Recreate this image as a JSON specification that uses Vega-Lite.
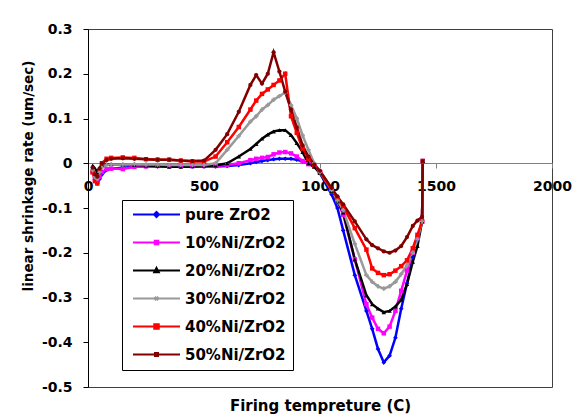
{
  "$schema": "https://vega.github.io/schema/vega-lite/v6.json",
  "width": 464,
  "height": 358,
  "autosize": {"type": "none"},
  "padding": {"left": 88, "top": 29, "right": 31, "bottom": 32},
  "config": {
    "font": "DejaVu Sans",
    "view": {"stroke": "#404040", "strokeWidth": 1},
    "axis": {"grid": false, "labelFontWeight": "bold", "labelColor": "black", "titleFontWeight": "bold", "titleColor": "black"}
  },
  "data": {"values": [
{"s":"pure ZrO2","t":20,"v":-0.015},{"s":"pure ZrO2","t":30,"v":-0.035},{"s":"pure ZrO2","t":40,"v":-0.045},{"s":"pure ZrO2","t":50,"v":-0.035},{"s":"pure ZrO2","t":60,"v":-0.025},{"s":"pure ZrO2","t":80,"v":-0.015},{"s":"pure ZrO2","t":100,"v":-0.012},{"s":"pure ZrO2","t":150,"v":-0.01},{"s":"pure ZrO2","t":200,"v":-0.008},{"s":"pure ZrO2","t":250,"v":-0.007},{"s":"pure ZrO2","t":300,"v":-0.007},{"s":"pure ZrO2","t":350,"v":-0.007},{"s":"pure ZrO2","t":400,"v":-0.007},{"s":"pure ZrO2","t":450,"v":-0.007},{"s":"pure ZrO2","t":500,"v":-0.007},{"s":"pure ZrO2","t":550,"v":-0.007},{"s":"pure ZrO2","t":600,"v":-0.006},{"s":"pure ZrO2","t":650,"v":-0.004},{"s":"pure ZrO2","t":700,"v":0.0},{"s":"pure ZrO2","t":725,"v":0.003},{"s":"pure ZrO2","t":750,"v":0.005},{"s":"pure ZrO2","t":775,"v":0.007},{"s":"pure ZrO2","t":800,"v":0.009},{"s":"pure ZrO2","t":825,"v":0.01},{"s":"pure ZrO2","t":850,"v":0.01},{"s":"pure ZrO2","t":875,"v":0.01},{"s":"pure ZrO2","t":900,"v":0.008},{"s":"pure ZrO2","t":925,"v":0.004},{"s":"pure ZrO2","t":950,"v":0.0},{"s":"pure ZrO2","t":975,"v":-0.006},{"s":"pure ZrO2","t":1000,"v":-0.022},{"s":"pure ZrO2","t":1050,"v":-0.07},{"s":"pure ZrO2","t":1075,"v":-0.1},{"s":"pure ZrO2","t":1100,"v":-0.15},{"s":"pure ZrO2","t":1150,"v":-0.25},{"s":"pure ZrO2","t":1200,"v":-0.33},{"s":"pure ZrO2","t":1225,"v":-0.37},{"s":"pure ZrO2","t":1250,"v":-0.415},{"s":"pure ZrO2","t":1275,"v":-0.445},{"s":"pure ZrO2","t":1300,"v":-0.43},{"s":"pure ZrO2","t":1325,"v":-0.39},{"s":"pure ZrO2","t":1350,"v":-0.325},{"s":"pure ZrO2","t":1375,"v":-0.268},{"s":"pure ZrO2","t":1400,"v":-0.21},{"s":"pure ZrO2","t":1420,"v":-0.17},{"s":"pure ZrO2","t":1440,"v":-0.13},{"s":"pure ZrO2","t":1443,"v":0.005},
{"s":"10%Ni/ZrO2","t":20,"v":-0.02},{"s":"10%Ni/ZrO2","t":30,"v":-0.035},{"s":"10%Ni/ZrO2","t":40,"v":-0.04},{"s":"10%Ni/ZrO2","t":50,"v":-0.03},{"s":"10%Ni/ZrO2","t":60,"v":-0.02},{"s":"10%Ni/ZrO2","t":80,"v":-0.013},{"s":"10%Ni/ZrO2","t":100,"v":-0.012},{"s":"10%Ni/ZrO2","t":150,"v":-0.013},{"s":"10%Ni/ZrO2","t":200,"v":-0.008},{"s":"10%Ni/ZrO2","t":250,"v":-0.007},{"s":"10%Ni/ZrO2","t":300,"v":-0.006},{"s":"10%Ni/ZrO2","t":350,"v":-0.006},{"s":"10%Ni/ZrO2","t":400,"v":-0.006},{"s":"10%Ni/ZrO2","t":450,"v":-0.006},{"s":"10%Ni/ZrO2","t":500,"v":-0.006},{"s":"10%Ni/ZrO2","t":550,"v":-0.006},{"s":"10%Ni/ZrO2","t":600,"v":-0.004},{"s":"10%Ni/ZrO2","t":650,"v":0.0},{"s":"10%Ni/ZrO2","t":700,"v":0.007},{"s":"10%Ni/ZrO2","t":725,"v":0.01},{"s":"10%Ni/ZrO2","t":750,"v":0.012},{"s":"10%Ni/ZrO2","t":775,"v":0.014},{"s":"10%Ni/ZrO2","t":800,"v":0.02},{"s":"10%Ni/ZrO2","t":825,"v":0.024},{"s":"10%Ni/ZrO2","t":850,"v":0.025},{"s":"10%Ni/ZrO2","t":875,"v":0.022},{"s":"10%Ni/ZrO2","t":900,"v":0.015},{"s":"10%Ni/ZrO2","t":925,"v":0.005},{"s":"10%Ni/ZrO2","t":950,"v":-0.002},{"s":"10%Ni/ZrO2","t":975,"v":-0.006},{"s":"10%Ni/ZrO2","t":1000,"v":-0.02},{"s":"10%Ni/ZrO2","t":1050,"v":-0.062},{"s":"10%Ni/ZrO2","t":1075,"v":-0.085},{"s":"10%Ni/ZrO2","t":1100,"v":-0.115},{"s":"10%Ni/ZrO2","t":1150,"v":-0.215},{"s":"10%Ni/ZrO2","t":1200,"v":-0.315},{"s":"10%Ni/ZrO2","t":1225,"v":-0.345},{"s":"10%Ni/ZrO2","t":1250,"v":-0.37},{"s":"10%Ni/ZrO2","t":1275,"v":-0.38},{"s":"10%Ni/ZrO2","t":1300,"v":-0.365},{"s":"10%Ni/ZrO2","t":1325,"v":-0.33},{"s":"10%Ni/ZrO2","t":1350,"v":-0.285},{"s":"10%Ni/ZrO2","t":1375,"v":-0.24},{"s":"10%Ni/ZrO2","t":1400,"v":-0.2},{"s":"10%Ni/ZrO2","t":1420,"v":-0.165},{"s":"10%Ni/ZrO2","t":1440,"v":-0.13},{"s":"10%Ni/ZrO2","t":1443,"v":0.005},
{"s":"20%Ni/ZrO2","t":20,"v":-0.005},{"s":"20%Ni/ZrO2","t":30,"v":-0.012},{"s":"20%Ni/ZrO2","t":40,"v":-0.02},{"s":"20%Ni/ZrO2","t":50,"v":-0.01},{"s":"20%Ni/ZrO2","t":60,"v":-0.005},{"s":"20%Ni/ZrO2","t":80,"v":-0.002},{"s":"20%Ni/ZrO2","t":100,"v":-0.002},{"s":"20%Ni/ZrO2","t":150,"v":-0.003},{"s":"20%Ni/ZrO2","t":200,"v":-0.004},{"s":"20%Ni/ZrO2","t":250,"v":-0.005},{"s":"20%Ni/ZrO2","t":300,"v":-0.006},{"s":"20%Ni/ZrO2","t":350,"v":-0.008},{"s":"20%Ni/ZrO2","t":400,"v":-0.008},{"s":"20%Ni/ZrO2","t":450,"v":-0.007},{"s":"20%Ni/ZrO2","t":500,"v":-0.006},{"s":"20%Ni/ZrO2","t":550,"v":-0.005},{"s":"20%Ni/ZrO2","t":600,"v":0.0},{"s":"20%Ni/ZrO2","t":650,"v":0.015},{"s":"20%Ni/ZrO2","t":700,"v":0.032},{"s":"20%Ni/ZrO2","t":725,"v":0.043},{"s":"20%Ni/ZrO2","t":750,"v":0.055},{"s":"20%Ni/ZrO2","t":775,"v":0.064},{"s":"20%Ni/ZrO2","t":800,"v":0.071},{"s":"20%Ni/ZrO2","t":825,"v":0.074},{"s":"20%Ni/ZrO2","t":850,"v":0.074},{"s":"20%Ni/ZrO2","t":875,"v":0.063},{"s":"20%Ni/ZrO2","t":900,"v":0.045},{"s":"20%Ni/ZrO2","t":925,"v":0.025},{"s":"20%Ni/ZrO2","t":950,"v":0.0},{"s":"20%Ni/ZrO2","t":975,"v":-0.008},{"s":"20%Ni/ZrO2","t":1000,"v":-0.022},{"s":"20%Ni/ZrO2","t":1050,"v":-0.062},{"s":"20%Ni/ZrO2","t":1075,"v":-0.085},{"s":"20%Ni/ZrO2","t":1100,"v":-0.11},{"s":"20%Ni/ZrO2","t":1150,"v":-0.215},{"s":"20%Ni/ZrO2","t":1200,"v":-0.295},{"s":"20%Ni/ZrO2","t":1225,"v":-0.315},{"s":"20%Ni/ZrO2","t":1250,"v":-0.325},{"s":"20%Ni/ZrO2","t":1275,"v":-0.333},{"s":"20%Ni/ZrO2","t":1300,"v":-0.33},{"s":"20%Ni/ZrO2","t":1325,"v":-0.32},{"s":"20%Ni/ZrO2","t":1350,"v":-0.305},{"s":"20%Ni/ZrO2","t":1375,"v":-0.27},{"s":"20%Ni/ZrO2","t":1400,"v":-0.22},{"s":"20%Ni/ZrO2","t":1420,"v":-0.185},{"s":"20%Ni/ZrO2","t":1440,"v":-0.13},{"s":"20%Ni/ZrO2","t":1443,"v":0.005},
{"s":"30%Ni/ZrO2","t":20,"v":-0.015},{"s":"30%Ni/ZrO2","t":30,"v":-0.03},{"s":"30%Ni/ZrO2","t":40,"v":-0.035},{"s":"30%Ni/ZrO2","t":50,"v":-0.02},{"s":"30%Ni/ZrO2","t":60,"v":-0.01},{"s":"30%Ni/ZrO2","t":80,"v":-0.004},{"s":"30%Ni/ZrO2","t":100,"v":-0.003},{"s":"30%Ni/ZrO2","t":150,"v":-0.003},{"s":"30%Ni/ZrO2","t":200,"v":-0.002},{"s":"30%Ni/ZrO2","t":250,"v":-0.003},{"s":"30%Ni/ZrO2","t":300,"v":-0.003},{"s":"30%Ni/ZrO2","t":350,"v":-0.004},{"s":"30%Ni/ZrO2","t":400,"v":-0.004},{"s":"30%Ni/ZrO2","t":450,"v":-0.004},{"s":"30%Ni/ZrO2","t":500,"v":-0.004},{"s":"30%Ni/ZrO2","t":550,"v":0.0},{"s":"30%Ni/ZrO2","t":600,"v":0.03},{"s":"30%Ni/ZrO2","t":650,"v":0.061},{"s":"30%Ni/ZrO2","t":700,"v":0.093},{"s":"30%Ni/ZrO2","t":725,"v":0.105},{"s":"30%Ni/ZrO2","t":750,"v":0.12},{"s":"30%Ni/ZrO2","t":775,"v":0.13},{"s":"30%Ni/ZrO2","t":800,"v":0.142},{"s":"30%Ni/ZrO2","t":825,"v":0.15},{"s":"30%Ni/ZrO2","t":850,"v":0.158},{"s":"30%Ni/ZrO2","t":875,"v":0.13},{"s":"30%Ni/ZrO2","t":900,"v":0.1},{"s":"30%Ni/ZrO2","t":925,"v":0.062},{"s":"30%Ni/ZrO2","t":950,"v":0.03},{"s":"30%Ni/ZrO2","t":975,"v":0.0},{"s":"30%Ni/ZrO2","t":1000,"v":-0.02},{"s":"30%Ni/ZrO2","t":1050,"v":-0.06},{"s":"30%Ni/ZrO2","t":1075,"v":-0.083},{"s":"30%Ni/ZrO2","t":1100,"v":-0.105},{"s":"30%Ni/ZrO2","t":1150,"v":-0.18},{"s":"30%Ni/ZrO2","t":1200,"v":-0.25},{"s":"30%Ni/ZrO2","t":1225,"v":-0.265},{"s":"30%Ni/ZrO2","t":1250,"v":-0.275},{"s":"30%Ni/ZrO2","t":1275,"v":-0.28},{"s":"30%Ni/ZrO2","t":1300,"v":-0.275},{"s":"30%Ni/ZrO2","t":1325,"v":-0.265},{"s":"30%Ni/ZrO2","t":1350,"v":-0.248},{"s":"30%Ni/ZrO2","t":1375,"v":-0.228},{"s":"30%Ni/ZrO2","t":1400,"v":-0.2},{"s":"30%Ni/ZrO2","t":1420,"v":-0.17},{"s":"30%Ni/ZrO2","t":1440,"v":-0.13},{"s":"30%Ni/ZrO2","t":1443,"v":0.005},
{"s":"40%Ni/ZrO2","t":20,"v":-0.02},{"s":"40%Ni/ZrO2","t":30,"v":-0.04},{"s":"40%Ni/ZrO2","t":40,"v":-0.045},{"s":"40%Ni/ZrO2","t":50,"v":-0.02},{"s":"40%Ni/ZrO2","t":60,"v":0.0},{"s":"40%Ni/ZrO2","t":80,"v":0.01},{"s":"40%Ni/ZrO2","t":100,"v":0.012},{"s":"40%Ni/ZrO2","t":150,"v":0.013},{"s":"40%Ni/ZrO2","t":200,"v":0.012},{"s":"40%Ni/ZrO2","t":250,"v":0.009},{"s":"40%Ni/ZrO2","t":300,"v":0.008},{"s":"40%Ni/ZrO2","t":350,"v":0.008},{"s":"40%Ni/ZrO2","t":400,"v":0.006},{"s":"40%Ni/ZrO2","t":450,"v":0.004},{"s":"40%Ni/ZrO2","t":500,"v":0.004},{"s":"40%Ni/ZrO2","t":550,"v":0.015},{"s":"40%Ni/ZrO2","t":600,"v":0.047},{"s":"40%Ni/ZrO2","t":650,"v":0.081},{"s":"40%Ni/ZrO2","t":700,"v":0.12},{"s":"40%Ni/ZrO2","t":725,"v":0.14},{"s":"40%Ni/ZrO2","t":750,"v":0.155},{"s":"40%Ni/ZrO2","t":775,"v":0.165},{"s":"40%Ni/ZrO2","t":800,"v":0.175},{"s":"40%Ni/ZrO2","t":825,"v":0.185},{"s":"40%Ni/ZrO2","t":850,"v":0.2},{"s":"40%Ni/ZrO2","t":875,"v":0.105},{"s":"40%Ni/ZrO2","t":900,"v":0.068},{"s":"40%Ni/ZrO2","t":925,"v":0.032},{"s":"40%Ni/ZrO2","t":950,"v":0.01},{"s":"40%Ni/ZrO2","t":975,"v":-0.005},{"s":"40%Ni/ZrO2","t":1000,"v":-0.02},{"s":"40%Ni/ZrO2","t":1050,"v":-0.058},{"s":"40%Ni/ZrO2","t":1075,"v":-0.078},{"s":"40%Ni/ZrO2","t":1100,"v":-0.097},{"s":"40%Ni/ZrO2","t":1150,"v":-0.145},{"s":"40%Ni/ZrO2","t":1200,"v":-0.193},{"s":"40%Ni/ZrO2","t":1225,"v":-0.235},{"s":"40%Ni/ZrO2","t":1250,"v":-0.245},{"s":"40%Ni/ZrO2","t":1275,"v":-0.25},{"s":"40%Ni/ZrO2","t":1300,"v":-0.248},{"s":"40%Ni/ZrO2","t":1325,"v":-0.24},{"s":"40%Ni/ZrO2","t":1350,"v":-0.23},{"s":"40%Ni/ZrO2","t":1375,"v":-0.217},{"s":"40%Ni/ZrO2","t":1400,"v":-0.19},{"s":"40%Ni/ZrO2","t":1420,"v":-0.16},{"s":"40%Ni/ZrO2","t":1440,"v":-0.13},{"s":"40%Ni/ZrO2","t":1443,"v":0.005},
{"s":"50%Ni/ZrO2","t":20,"v":-0.01},{"s":"50%Ni/ZrO2","t":30,"v":-0.025},{"s":"50%Ni/ZrO2","t":40,"v":-0.03},{"s":"50%Ni/ZrO2","t":50,"v":-0.012},{"s":"50%Ni/ZrO2","t":60,"v":0.0},{"s":"50%Ni/ZrO2","t":80,"v":0.007},{"s":"50%Ni/ZrO2","t":100,"v":0.01},{"s":"50%Ni/ZrO2","t":150,"v":0.011},{"s":"50%Ni/ZrO2","t":200,"v":0.01},{"s":"50%Ni/ZrO2","t":250,"v":0.009},{"s":"50%Ni/ZrO2","t":300,"v":0.008},{"s":"50%Ni/ZrO2","t":350,"v":0.008},{"s":"50%Ni/ZrO2","t":400,"v":0.006},{"s":"50%Ni/ZrO2","t":450,"v":0.005},{"s":"50%Ni/ZrO2","t":500,"v":0.006},{"s":"50%Ni/ZrO2","t":550,"v":0.03},{"s":"50%Ni/ZrO2","t":600,"v":0.065},{"s":"50%Ni/ZrO2","t":650,"v":0.115},{"s":"50%Ni/ZrO2","t":700,"v":0.175},{"s":"50%Ni/ZrO2","t":725,"v":0.197},{"s":"50%Ni/ZrO2","t":750,"v":0.178},{"s":"50%Ni/ZrO2","t":775,"v":0.2},{"s":"50%Ni/ZrO2","t":800,"v":0.248},{"s":"50%Ni/ZrO2","t":825,"v":0.205},{"s":"50%Ni/ZrO2","t":850,"v":0.16},{"s":"50%Ni/ZrO2","t":875,"v":0.12},{"s":"50%Ni/ZrO2","t":900,"v":0.08},{"s":"50%Ni/ZrO2","t":925,"v":0.04},{"s":"50%Ni/ZrO2","t":950,"v":0.015},{"s":"50%Ni/ZrO2","t":975,"v":-0.003},{"s":"50%Ni/ZrO2","t":1000,"v":-0.017},{"s":"50%Ni/ZrO2","t":1050,"v":-0.055},{"s":"50%Ni/ZrO2","t":1075,"v":-0.074},{"s":"50%Ni/ZrO2","t":1100,"v":-0.092},{"s":"50%Ni/ZrO2","t":1150,"v":-0.13},{"s":"50%Ni/ZrO2","t":1200,"v":-0.17},{"s":"50%Ni/ZrO2","t":1225,"v":-0.183},{"s":"50%Ni/ZrO2","t":1250,"v":-0.19},{"s":"50%Ni/ZrO2","t":1275,"v":-0.197},{"s":"50%Ni/ZrO2","t":1300,"v":-0.2},{"s":"50%Ni/ZrO2","t":1325,"v":-0.195},{"s":"50%Ni/ZrO2","t":1350,"v":-0.185},{"s":"50%Ni/ZrO2","t":1375,"v":-0.165},{"s":"50%Ni/ZrO2","t":1400,"v":-0.14},{"s":"50%Ni/ZrO2","t":1420,"v":-0.128},{"s":"50%Ni/ZrO2","t":1440,"v":-0.12},{"s":"50%Ni/ZrO2","t":1443,"v":0.005}
  ]},
  "encoding": {
    "x": {
      "field": "t", "type": "quantitative",
      "scale": {"domain": [0, 2000], "nice": false},
      "axis": {
        "title": "Firing tempreture (C)",
        "values": [0, 500, 1000, 1500, 2000],
        "format": "d",
        "offset": -224,
        "domainColor": "#808080", "tickColor": "#808080", "tickSize": 5,
        "labelFontSize": 14, "labelPadding": 11, "labelFlush": false, "labelOverlap": false,
        "titleFontSize": 15, "titleY": 242, "titleBaseline": "middle"
      }
    },
    "y": {
      "field": "v", "type": "quantitative",
      "scale": {"domain": [-0.5, 0.3], "nice": false, "zero": false},
      "axis": {
        "title": "linear shrinkage rate (um/sec)",
        "values": [-0.5, -0.4, -0.3, -0.2, -0.1, 0, 0.1, 0.2, 0.3],
        "labelExpr": "datum.value == 0 ? '0' : replace(format(datum.value, '.1f'), '\u2212', '-')",
        "domainColor": "black", "tickColor": "black", "tickSize": 5,
        "labelFontSize": 14, "labelPadding": 11, "labelFlush": false, "labelOverlap": false,
        "titleFontSize": 13.5, "titleX": -60, "titleY": 146.5, "titleAlign": "center", "titleBaseline": "middle", "titleAngle": -90
      }
    },
    "color": {
      "field": "s", "type": "nominal",
      "scale": {
        "domain": ["pure ZrO2", "10%Ni/ZrO2", "20%Ni/ZrO2", "30%Ni/ZrO2", "40%Ni/ZrO2", "50%Ni/ZrO2"],
        "range": ["#0000FF", "#FF00FF", "#000000", "#999999", "#FF0000", "#800000"]
      },
      "legend": {
        "title": null,
        "orient": "none",
        "legendX": 34,
        "legendY": 171,
        "padding": 7,
        "strokeColor": "black",
        "fillColor": "white",
        "rowPadding": 12,
        "symbolType": "M-4.7,0H4.7",
        "symbolSize": 100,
        "symbolStrokeWidth": 2,
        "symbolOffset": 20,
        "labelOffset": 21,
        "labelFontSize": 15,
        "labelFontWeight": "bold",
        "labelColor": "black",
        "labelLimit": 0,
        "encode": {
          "symbols": {
            "update": {
              "fill": {"scale": "color", "field": "value"},
              "stroke": {"scale": "color", "field": "value"},
              "shape": {"signal": "datum.value == 'pure ZrO2' ? 'M-4.7,0H4.7M0,-0.5L0.5,0L0,0.5L-0.5,0Z' : datum.value == '10%Ni/ZrO2' ? 'M-4.7,0H4.7M-0.35,-0.35H0.35V0.35H-0.35Z' : datum.value == '20%Ni/ZrO2' ? 'M-4.7,0H4.7M0,-0.5L0.45,0.35H-0.45Z' : datum.value == '30%Ni/ZrO2' ? 'M-4.7,0H4.7M-0.35,-0.35L0.35,0.35M-0.35,0.35L0.35,-0.35' : datum.value == '40%Ni/ZrO2' ? 'M-4.7,0H4.7M-0.45,-0.45H0.45V0.45H-0.45Z' : 'M-4.7,0H4.7M-0.3,-0.3H0.3V0.3H-0.3Z'"}
            }
          }
        }
      }
    }
  },
  "layer": [
    {"mark": {"type": "line", "strokeWidth": 2.5}},
    {
      "transform": [{"filter": {"field": "s", "equal": "pure ZrO2"}}],
      "mark": {"type": "point", "filled": true, "size": 22, "opacity": 1, "shape": "diamond"}
    },
    {
      "transform": [{"filter": {"field": "s", "oneOf": ["10%Ni/ZrO2", "40%Ni/ZrO2"]}}],
      "mark": {"type": "point", "filled": true, "size": 20, "opacity": 1, "shape": "square"}
    },
    {
      "transform": [{"filter": {"field": "s", "equal": "20%Ni/ZrO2"}}],
      "mark": {"type": "point", "filled": true, "size": 20, "opacity": 1, "shape": "triangle-up"}
    },
    {
      "transform": [{"filter": {"field": "s", "equal": "30%Ni/ZrO2"}}],
      "mark": {"type": "point", "filled": true, "size": 20, "opacity": 1, "shape": "cross"}
    },
    {
      "transform": [{"filter": {"field": "s", "equal": "50%Ni/ZrO2"}}],
      "mark": {"type": "point", "filled": true, "size": 18, "opacity": 1, "shape": "circle"}
    }
  ]
}
